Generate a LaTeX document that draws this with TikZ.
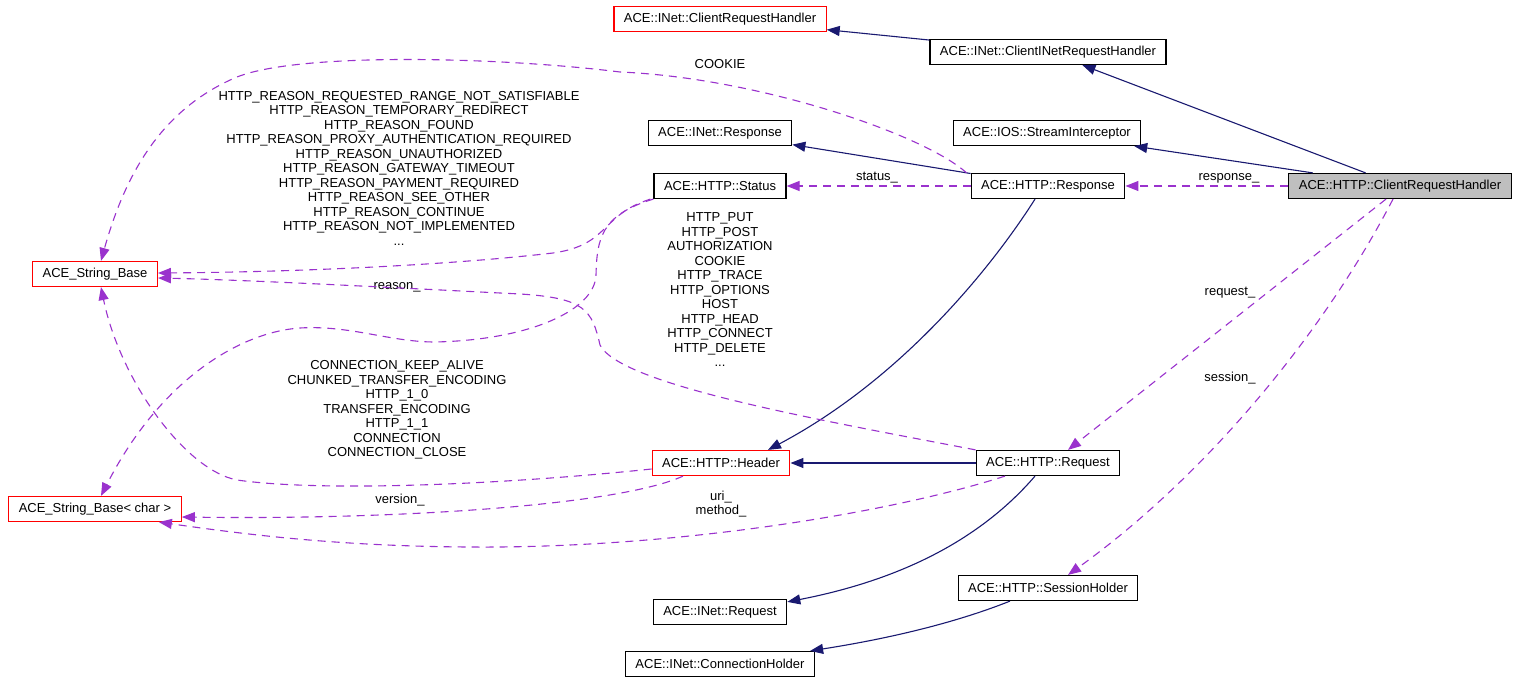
\documentclass[tikz,border=0pt]{standalone}
\usepackage{fontspec}
\setmainfont{Liberation Sans}
\usepackage{tikz}
\usetikzlibrary{arrows.meta}
\definecolor{navy}{HTML}{191970}
\definecolor{orchid}{HTML}{9A32CD}
\definecolor{chgray}{HTML}{BFBFBF}
\tikzset{
  cls/.style={draw=black, rectangle, line width=1.2pt, minimum height=25pt, inner xsep=10pt, inner ysep=0pt, font=\fontsize{13}{14.5}\selectfont},
  extcls/.style={cls, draw=red},
  focus/.style={cls, fill=chgray},
  inh/.style={draw=navy, line width=1.1pt, -{Triangle[length=13pt,width=10pt]}},
  usedby/.style={draw=orchid, line width=1.1pt, dash pattern=on 8pt off 6pt, -{Triangle[length=13pt,width=10pt]}},
  lbl/.style={align=center, inner sep=0pt, font=\fontsize{13}{14.5}\selectfont}
}

\begin{document}
\begin{tikzpicture}[x=1pt,y=-1pt]
    \useasboundingbox (0,0) rectangle (1520,684);

    % Define nodes
    \node[extcls]	(inetcrh)	at (720,19)	{ACE::INet::ClientRequestHandler};
    \node[cls]		(cinet)		at (1048,52)	{ACE::INet::ClientINetRequestHandler};
    \node[cls]		(inetresp)	at (720,133)	{ACE::INet::Response};
    \node[cls]		(stream)	at (1047,133)	{ACE::IOS::StreamInterceptor};
    \node[cls]		(status)	at (720,186)	{ACE::HTTP::Status};
    \node[cls]		(resp)		at (1048,186)	{ACE::HTTP::Response};
    \node[focus]	(crh)		at (1400,186)	{ACE::HTTP::ClientRequestHandler};
    \node[extcls]	(strbase)	at (95,274)	{ACE\_String\_Base};
    \node[extcls]	(header)	at (721,463)	{ACE::HTTP::Header};
    \node[cls]		(request)	at (1048,463)	{ACE::HTTP::Request};
    \node[extcls]	(strbc)		at (95,509)	{ACE\_String\_Base< char >};
    \node[cls]		(session)	at (1048,588)	{ACE::HTTP::SessionHolder};
    \node[cls]		(inetreq)	at (720,612)	{ACE::INet::Request};
    \node[cls]		(conn)		at (720,664)	{ACE::INet::ConnectionHolder};

    % Edge labels
    \node[lbl]	(lcookie)	at (720,64)	{COOKIE};
    \node[lbl]	(lreason)	at (399,168)	{HTTP\_REASON\_REQUESTED\_RANGE\_NOT\_SATISFIABLE\\HTTP\_REASON\_TEMPORARY\_REDIRECT\\HTTP\_REASON\_FOUND\\HTTP\_REASON\_PROXY\_AUTHENTICATION\_REQUIRED\\HTTP\_REASON\_UNAUTHORIZED\\HTTP\_REASON\_GATEWAY\_TIMEOUT\\HTTP\_REASON\_PAYMENT\_REQUIRED\\HTTP\_REASON\_SEE\_OTHER\\HTTP\_REASON\_CONTINUE\\HTTP\_REASON\_NOT\_IMPLEMENTED\\...};
    \node[lbl]	(lstatus)	at (877,178)	{status\_};
    \node[lbl]	(lresponse)	at (1229,178)	{response\_};
    \node[lbl]	(lmethods)	at (720,290)	{HTTP\_PUT\\HTTP\_POST\\AUTHORIZATION\\COOKIE\\HTTP\_TRACE\\HTTP\_OPTIONS\\HOST\\HTTP\_HEAD\\HTTP\_CONNECT\\HTTP\_DELETE\\...};
    \node[lbl]	(lreasonm)	at (397,287)	{reason\_};
    \node[lbl]	(lrequest)	at (1230,293)	{request\_};
    \node[lbl]	(lsession)	at (1230,378)	{session\_};
    \node[lbl]	(lconn)		at (397,410)	{CONNECTION\_KEEP\_ALIVE\\CHUNKED\_TRANSFER\_ENCODING\\HTTP\_1\_0\\TRANSFER\_ENCODING\\HTTP\_1\_1\\CONNECTION\\CONNECTION\_CLOSE};
    \node[lbl]	(lversion)	at (400,500)	{version\_};
    \node[lbl]	(luri)		at (721,504)	{uri\_\\method\_};

    % Connect nodes
    \draw[inh] (cinet) -- (inetcrh);
    \draw[inh] (crh) -- (cinet);
    \draw[inh] (crh) -- (stream);
    \draw[inh] (resp) -- (inetresp);
    \draw[inh] (request) -- (header);
    \draw[inh] ([xshift=-13pt]resp.south) .. controls (990,270) and (900,380) .. ([xshift=47pt]header.north);
    \draw[inh] ([xshift=-13pt]request.south) .. controls (980,540) and (900,580) .. ([yshift=-3pt]inetreq.north east);
    \draw[inh] ([xshift=-38pt]session.south) .. controls (950,625) and (880,640) .. ([xshift=-5pt]conn.north east);

    \draw[usedby] (crh) -- (resp);
    \draw[usedby] (resp) -- (status);
    \draw[usedby] ([xshift=-4pt]resp.north west) .. controls (925,135) and (760,78) .. (620,72)
        .. controls (500,57) and (300,52) .. (237,77)
        .. controls (161,109) and (125,175) .. ([xshift=6pt]strbase.north);
    \draw[usedby] ([xshift=-3pt]status.south west) .. controls (600,215) and (610,245) .. (553,253)
        .. controls (450,265) and (300,272) .. ([yshift=1pt]strbase.east);
    \draw[usedby] (status.south west) .. controls (600,215) and (597,240) .. (596,275)
        .. controls (595,310) and (530,340) .. (435,342)
        .. controls (390,342) and (350,325) .. (300,328)
        .. controls (240,332) and (160,380) .. ([xshift=6pt]strbc.north);
    \draw[usedby] (request.north west) .. controls (820,420) and (620,385) .. (600,345)
        .. controls (592,310) and (585,298) .. (520,294)
        .. controls (400,288) and (250,280) .. ([yshift=-4pt]strbase.east);
    \draw[usedby] ([yshift=-6pt]header.west) .. controls (500,485) and (320,492) .. (237,480)
        .. controls (185,470) and (120,380) .. ([xshift=6pt]strbase.south);
    \draw[usedby] ([xshift=-38pt]header.south) .. controls (620,505) and (400,520) .. ([yshift=-8pt]strbc.east);
    \draw[usedby] ([xshift=-43pt]request.south) .. controls (900,510) and (700,545) .. (500,547)
        .. controls (350,548) and (250,535) .. ([xshift=-23pt]strbc.south east);
    \draw[usedby] ([xshift=-14pt]crh.south) -- ([xshift=20pt]request.north);
    \draw[usedby] ([xshift=-7pt]crh.south) .. controls (1320,340) and (1200,480) .. ([xshift=20pt]session.north);
\end{tikzpicture}
\end{document}
